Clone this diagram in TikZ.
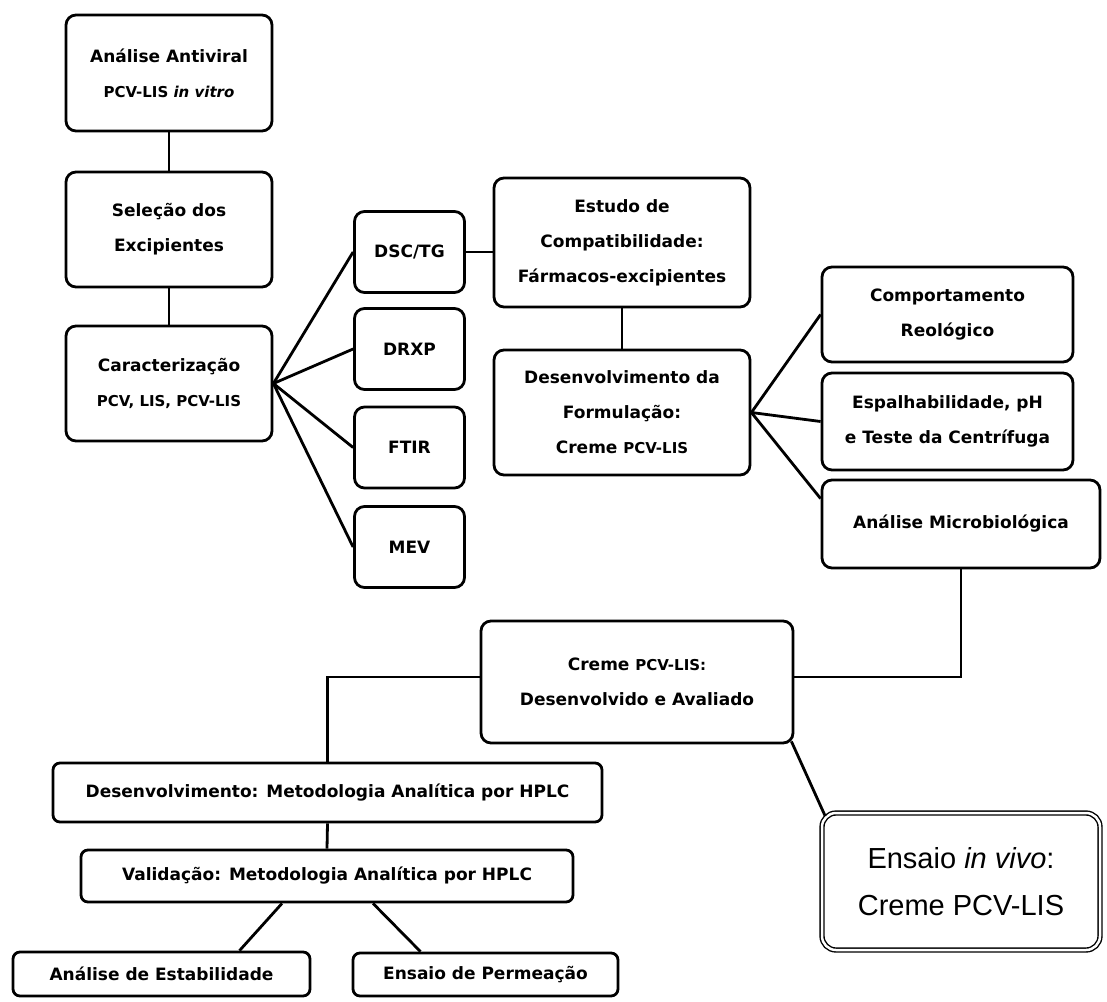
\documentclass[tikz,border=0pt]{standalone}
\usepackage{fontspec}
\setmainfont{DejaVu Sans}
\newfontfamily\arialfont{Liberation Sans}
\usetikzlibrary{positioning}
\newcommand\smtxt[1]{{\fontsize{15}{35}\selectfont #1}}
\tikzset{
  box/.style={draw, line width=2.8pt, rounded corners=10pt, align=center,
    inner sep=0pt, font=\bfseries\fontsize{17}{35}\selectfont},
  techbox/.style={box, minimum width=110pt, minimum height=81pt},
  flatbox/.style={box, rounded corners=7pt},
  link/.style={line width=2.8pt},
}

\begin{document}
\begin{tikzpicture}[x=1pt,y=-1pt]
  \useasboundingbox (0,0) rectangle (1107,1001);
  % left column
  \node[box, minimum width=206pt, minimum height=116pt] (antiviral) at (169,73)
    {Análise Antiviral\\ \smtxt{PCV-LIS \textit{in vitro}}};
  \node[box, minimum width=206pt, minimum height=115pt] (selecao) at (169,229.5)
    {Seleção dos\\ Excipientes};
  \node[box, minimum width=206pt, minimum height=115pt] (caract) at (169,383.5)
    {Caracterização\\ \smtxt{PCV, LIS, PCV-LIS}};
  % techniques
  \node[techbox] (dsc)  at (409.5,252) {DSC/TG};
  \node[techbox] (drxp) at (409.5,349) {DRXP};
  \node[techbox] (ftir) at (409.5,447.5) {FTIR};
  \node[techbox] (mev)  at (409.5,547) {MEV};
  % formulation
  \node[box, minimum width=256pt, minimum height=129pt] (estudo) at (622,242.5)
    {Estudo de\\ Compatibilidade:\\ Fármacos-excipientes};
  \node[box, minimum width=256pt, minimum height=125pt] (formul) at (622,412.5)
    {Desenvolvimento da\\ Formulação:\\ Creme \smtxt{PCV-LIS}};
  \node[box, minimum width=251pt, minimum height=95pt] (comport) at (947.5,314.5)
    {Comportamento\\ Reológico};
  \node[box, minimum width=251pt, minimum height=97pt] (espalh) at (947.5,421.5)
    {Espalhabilidade, pH\\ e Teste da Centrífuga};
  \node[box, minimum width=278pt, minimum height=88pt] (micro) at (961,524)
    {Análise Microbiológica};
  % result and analytics
  \node[box, minimum width=312pt, minimum height=122pt] (creme) at (637,682)
    {Creme \smtxt{PCV-LIS:}\\ Desenvolvido e Avaliado};
  \node[flatbox, minimum width=549pt, minimum height=59pt] (hplc) at (327.5,792.5)
    {Desenvolvimento: Metodologia Analítica por HPLC};
  \node[flatbox, minimum width=492pt, minimum height=52pt] (valid) at (327,876)
    {Validação: Metodologia Analítica por HPLC};
  \node[flatbox, minimum width=297pt, minimum height=44pt] (estab) at (161.5,974)
    {Análise de Estabilidade};
  \node[flatbox, minimum width=265pt, minimum height=43pt] (perm) at (485.5,974.5)
    {Ensaio de Permeação};
  \node[box, double, double distance=2.5pt, line width=1.4pt, rounded corners=14pt,
    minimum width=278pt, minimum height=137pt,
    font=\arialfont\fontsize{29}{47}\selectfont] (vivo) at (961,881.5)
    {Ensaio \textit{in vivo}:\\ Creme PCV-LIS};
  % connectors
  \draw[link] (antiviral.south) -- (selecao.north);
  \draw[link] (selecao.south) -- (caract.north);
  \foreach \t in {dsc,drxp,ftir,mev}
    \draw[link] (caract.east) -- (\t.west);
  \draw[link] (dsc.east) -- (dsc.east -| estudo.west);
  \draw[link] (estudo.south) -- (formul.north);
  \draw[link] (formul.east) -- (comport.west);
  \draw[link] (formul.east) -- (espalh.west);
  \draw[link] (formul.east) -- ([yshift=-20pt]micro.north west);
  \draw[link] (micro.south) |- ([yshift=5pt]creme.east);
  \draw[link] ([yshift=5pt]creme.west) -| (hplc.north);
  \draw[link] (hplc.south) -- (valid.north);
  \draw[link] ([xshift=-45pt]valid.south) -- ([xshift=78pt]estab.north);
  \draw[link] ([xshift=46pt]valid.south) -- ([xshift=-65pt]perm.north);
  \draw[link] ([shift={(-3pt,3pt)}]creme.south east) -- ([shift={(4pt,-4pt)}]vivo.north west);
\end{tikzpicture}
\end{document}
